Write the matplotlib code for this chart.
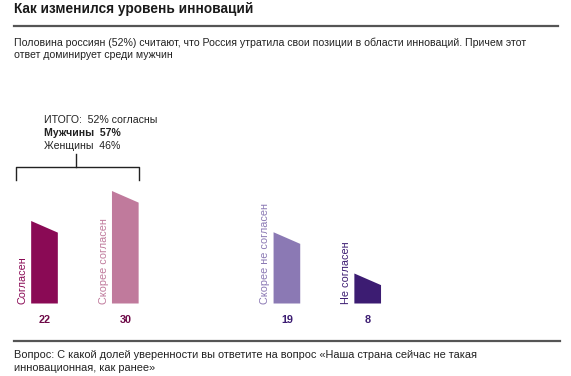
import numpy as np
import matplotlib.pyplot as plt
from matplotlib.patches import Polygon

plt.rcParams['font.family'] = ['Liberation Sans', 'DejaVu Sans']

categories = ['Согласен', 'Скорее согласен', 'Скорее не согласен', 'Не согласен']
values = [22, 30, 19, 8]
positions = [0, 1, 3, 4]
colors = ['#8a0a55', '#c07a9c', '#8b79b4', '#3c1c72']
num_colors = ['#6e0a48', '#6e0a48', '#3c1c72', '#3c1c72']

title = 'Как изменился уровень инноваций'
subtitle = ('Половина россиян (52%) считают, что Россия утратила свои позиции в области инноваций. Причем этот\n'
            'ответ доминирует среди мужчин')
note = ('Вопрос: С какой долей уверенности вы ответите на вопрос «Наша страна сейчас не такая\n'
        'инновационная, как ранее»')
summary = ['ИТОГО:  52% согласны', 'Мужчины  57%', 'Женщины  46%']

W, H = 571, 376
fig = plt.figure(figsize=(W / 100, H / 100), dpi=100)

# bars axes: whole figure, data units mapped so bars land where they should
x0, xunit = 44.5, 80.8      # px of position 0, px per position
y0, yunit = 303.5, 3.75     # px (from top) of value 0, px per value
ax = fig.add_axes([0, 0, 1, 1])
ax.set_xlim(-x0 / xunit, (W - x0) / xunit)
ax.set_ylim(-(H - y0) / yunit, y0 / yunit)
ax.axis('off')

bw = 0.33
slant = 3.1
for p, v, c, nc, lab in zip(positions, values, colors, num_colors, categories):
    poly = Polygon([(p - bw / 2, 0), (p - bw / 2, v), (p + bw / 2, v - slant), (p + bw / 2, 0)],
                   closed=True, facecolor=c, edgecolor='none')
    ax.add_patch(poly)
    ax.text(p - bw / 2 - 0.04, 0, lab, rotation=90, ha='right', va='bottom',
            fontsize=7.8, color=c)
    ax.text(p, -4.5, str(v), ha='center', va='center', fontsize=7.8,
            fontweight='bold', color=nc)

def fx(px):
    return px / W

def fy(py):
    return 1 - py / H

# header
fig.text(fx(14), fy(8.5), title, fontsize=9.8, fontweight='bold', color='#1a1a1a', va='center')
fig.add_artist(plt.Line2D([fx(14), fx(558)], [fy(26), fy(26)], color='#555555', lw=1.6))
fig.text(fx(14), fy(48.5), subtitle, fontsize=7.55, color='#222222', va='center', linespacing=1.3)

# summary block with bracket
fig.text(fx(44), fy(120), summary[0], fontsize=7.6, color='#222222', va='center')
fig.text(fx(44), fy(133), summary[1], fontsize=7.6, color='#222222', va='center', fontweight='bold')
fig.text(fx(44), fy(145.5), summary[2], fontsize=7.6, color='#222222', va='center')
fig.add_artist(plt.Line2D([fx(16), fx(16), fx(139), fx(139)], [fy(180), fy(167), fy(167), fy(180)],
                          color='#222222', lw=1))
fig.add_artist(plt.Line2D([fx(76), fx(76)], [fy(154), fy(167)], color='#222222', lw=1))

# footer
fig.add_artist(plt.Line2D([fx(14), fx(560)], [fy(341), fy(341)], color='#555555', lw=1.6))
fig.text(fx(14), fy(361.5), note, fontsize=7.9, color='#222222', va='center', linespacing=1.3)

fig.savefig('out.png', dpi=100, facecolor='white')
